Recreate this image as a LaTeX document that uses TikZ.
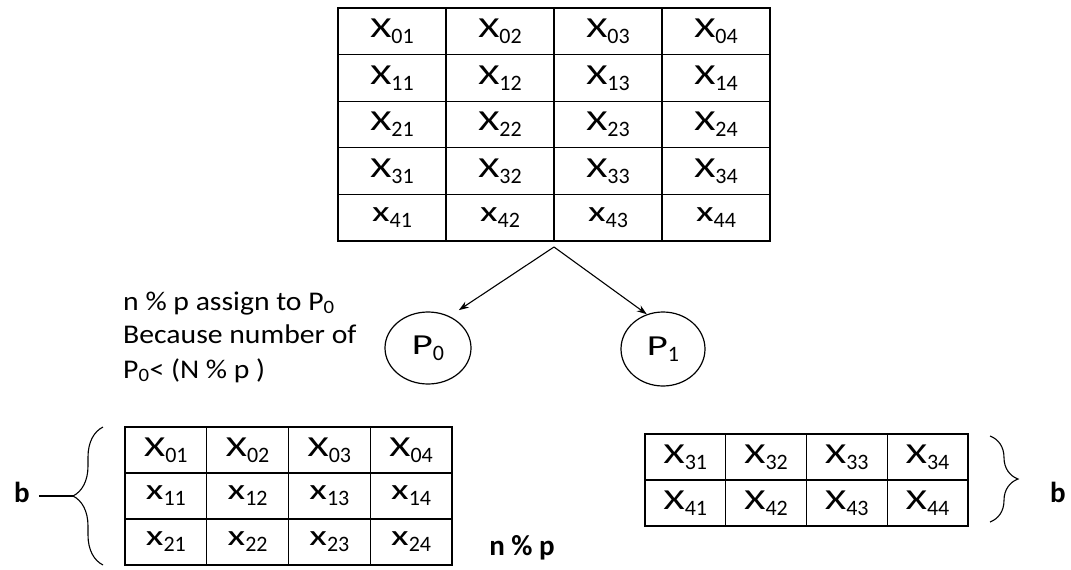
\documentclass[tikz,border=0pt]{standalone}
\usepackage{fontspec}
\setmainfont{Carlito}
\newfontfamily\calw[FakeStretch=1.4]{Carlito}
\newfontfamily\caln[FakeStretch=1.1]{Carlito}
\usetikzlibrary{shapes.geometric, decorations.pathreplacing, arrows.meta}

% letter with a low index, as in the cells
\newcommand\cellx[2]{{\calw\fontsize{29}{30}\selectfont #1}\raisebox{-6pt}{\fontsize{22}{22}\selectfont #2}}

\tikzset{
  cell/.style={draw, line width=1.2pt, inner sep=0pt, outer sep=0pt, anchor=north west},
  topcell/.style={cell, minimum width=108pt, minimum height=46.6pt},
  leftcell/.style={cell, minimum width=81.75pt, minimum height=46pt},
  rightcell/.style={cell, minimum width=80.75pt, minimum height=46pt},
  proc/.style={draw, ellipse, line width=1.2pt, inner sep=0pt},
  note/.style={anchor=base west, inner sep=0pt, font=\caln\fontsize{27}{30}\selectfont},
  lab/.style={inner sep=0pt, font=\bfseries\fontsize{29}{32}\selectfont},
  flow/.style={line width=1.1pt, -{Stealth[length=10pt, width=7pt]}},
  brc/.style={line width=1.1pt, decorate, decoration={brace, amplitude=30pt}}
}

\begin{document}
\begin{tikzpicture}[x=1pt, y=-1pt]
  \useasboundingbox (0,0) rectangle (1071,570);

  % 1. the whole matrix
  \foreach \r/\l in {0/X,1/X,2/X,3/X,4/x}
    \foreach \c in {1,...,4}
      \node[topcell] (top\r\c) at ({338+(\c-1)*108},{8+\r*46.6}) {\cellx{\l}{\r\c}};

  % 2. split point under the matrix and the two processes
  \coordinate (split) at ([yshift=-6pt]top42.south east);
  \node[proc, minimum width=86pt, minimum height=72pt] (p0) at (428,348) {\cellx{P}{0}};
  \node[proc, minimum width=84pt, minimum height=74pt] (p1) at (663,349) {\cellx{P}{1}};
  \draw[flow] (split) -- ([yshift=12pt]p0.north east);
  \draw[flow] (split) -- (p1.115);

  % 3. note on the left
  \node[note] (note1) at (123,310) {n \% p assign to P\textsubscript{0}};
  \node[note] (note2) at (123,343) {Because number of};
  \node[note] (note3) at (123,378) {P\textsubscript{0}< (N \% p )};

  % 4. rows given to P0
  \foreach \r/\l in {0/X,1/x,2/x}
    \foreach \c in {1,...,4}
      \node[leftcell] (bl\r\c) at ({125+(\c-1)*81.75},{427+\r*46}) {\cellx{\l}{\r\c}};
  \coordinate (lbtop) at ([xshift=-22pt]bl01.north west);
  \coordinate (lbbot) at ([xshift=-22pt]bl21.south west);
  \draw[brc] (lbbot) -- (lbtop);
  \coordinate (ltip) at (73,496);
  \node[lab] (bl) at (22,492) {b};
  \draw[line width=1.1pt] (bl.east) ++(9pt,-4pt) coordinate (ldash) (ldash) -- (ltip);
  \node[lab] (np) at (522,548) {n \% p};

  % 5. rows given to P1
  \foreach \r in {3,4}
    \foreach \c in {1,...,4}
      \node[rightcell] (br\r\c) at ({645+(\c-1)*80.75},{434+(\r-3)*46}) {\cellx{X}{\r\c}};
  \coordinate (rbtop) at ([xshift=22pt,yshift=-2pt]br34.north east);
  \coordinate (rbbot) at ([xshift=22pt,yshift=4pt]br44.south east);
  \draw[brc, decoration={amplitude=28pt}] (rbtop) -- (rbbot);
  \node[lab] (br) at (1058,492) {b};
\end{tikzpicture}
\end{document}
